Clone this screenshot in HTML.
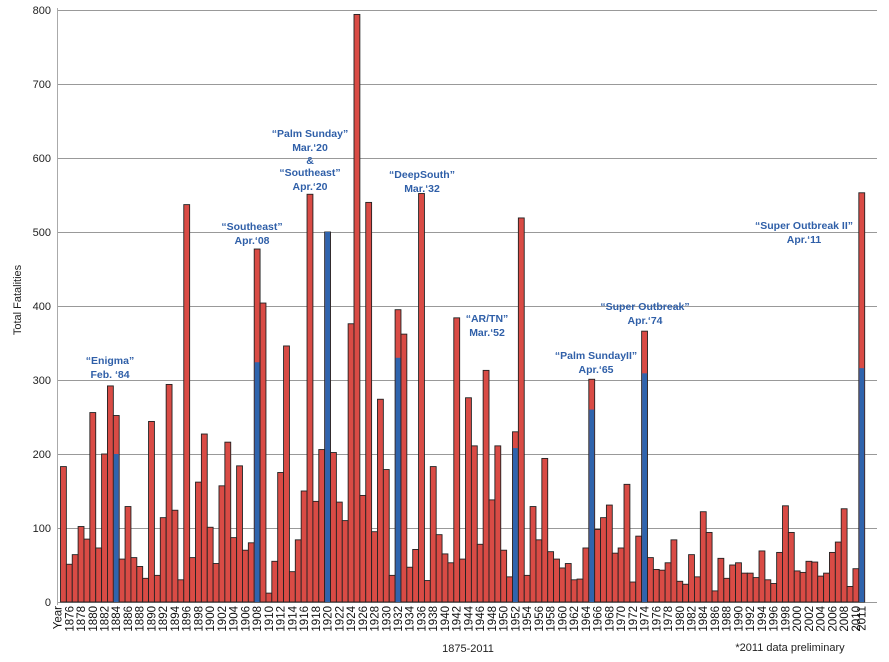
<!DOCTYPE html>
<html><head><meta charset="utf-8"><style>
body{margin:0;background:#fff;}
svg{display:block;font-family:"Liberation Sans",Arial,sans-serif;}
.ann{fill:#2f5fa8;font-weight:bold;font-size:10.5px;text-anchor:middle;}
.yl{font-size:11px;text-anchor:end;fill:#222;}
.xl text{font-size:11.5px;text-anchor:end;fill:#111;}
</style></head><body>
<svg id="c" width="889" height="662" viewBox="0 0 889 662" xmlns="http://www.w3.org/2000/svg">
<g id="grid" stroke="#999" stroke-width="1">
<line x1="57" x2="877" y1="10.5" y2="10.5"/><line x1="57" x2="877" y1="84.5" y2="84.5"/>
<line x1="57" x2="877" y1="158.5" y2="158.5"/><line x1="57" x2="877" y1="232.5" y2="232.5"/>
<line x1="57" x2="877" y1="306.5" y2="306.5"/><line x1="57" x2="877" y1="380.5" y2="380.5"/>
<line x1="57" x2="877" y1="454.5" y2="454.5"/><line x1="57" x2="877" y1="528.5" y2="528.5"/>
<line x1="57" x2="877" y1="602.5" y2="602.5"/>
<line x1="57.5" x2="57.5" y1="8" y2="605" stroke="#aaa"/>
</g>
<g class="yl">
<text x="51" y="14">800</text><text x="51" y="88">700</text><text x="51" y="162">600</text>
<text x="51" y="236">500</text><text x="51" y="310">400</text><text x="51" y="384">300</text>
<text x="51" y="458">200</text><text x="51" y="532">100</text><text x="51" y="606">0</text>
</g>
<text transform="translate(21,300) rotate(-90)" font-size="11" text-anchor="middle" fill="#222">Total Fatalities</text>
<g id="bars"></g>
<g class="xl">
<text transform="translate(61.5,606) rotate(-90)">Year</text>
<text transform="translate(73.3,606) rotate(-90)">1876</text>
<text transform="translate(85.0,606) rotate(-90)">1878</text>
<text transform="translate(96.8,606) rotate(-90)">1880</text>
<text transform="translate(108.5,606) rotate(-90)">1882</text>
<text transform="translate(120.2,606) rotate(-90)">1884</text>
<text transform="translate(132.0,606) rotate(-90)">1886</text>
<text transform="translate(143.7,606) rotate(-90)">1888</text>
<text transform="translate(155.5,606) rotate(-90)">1890</text>
<text transform="translate(167.2,606) rotate(-90)">1892</text>
<text transform="translate(178.9,606) rotate(-90)">1894</text>
<text transform="translate(190.7,606) rotate(-90)">1896</text>
<text transform="translate(202.4,606) rotate(-90)">1898</text>
<text transform="translate(214.2,606) rotate(-90)">1900</text>
<text transform="translate(225.9,606) rotate(-90)">1902</text>
<text transform="translate(237.6,606) rotate(-90)">1904</text>
<text transform="translate(249.4,606) rotate(-90)">1906</text>
<text transform="translate(261.1,606) rotate(-90)">1908</text>
<text transform="translate(272.9,606) rotate(-90)">1910</text>
<text transform="translate(284.6,606) rotate(-90)">1912</text>
<text transform="translate(296.3,606) rotate(-90)">1914</text>
<text transform="translate(308.1,606) rotate(-90)">1916</text>
<text transform="translate(319.8,606) rotate(-90)">1918</text>
<text transform="translate(331.6,606) rotate(-90)">1920</text>
<text transform="translate(343.3,606) rotate(-90)">1922</text>
<text transform="translate(355.0,606) rotate(-90)">1924</text>
<text transform="translate(366.8,606) rotate(-90)">1926</text>
<text transform="translate(378.5,606) rotate(-90)">1928</text>
<text transform="translate(390.3,606) rotate(-90)">1930</text>
<text transform="translate(402.0,606) rotate(-90)">1932</text>
<text transform="translate(413.7,606) rotate(-90)">1934</text>
<text transform="translate(425.5,606) rotate(-90)">1936</text>
<text transform="translate(437.2,606) rotate(-90)">1938</text>
<text transform="translate(449.0,606) rotate(-90)">1940</text>
<text transform="translate(460.7,606) rotate(-90)">1942</text>
<text transform="translate(472.4,606) rotate(-90)">1944</text>
<text transform="translate(484.2,606) rotate(-90)">1946</text>
<text transform="translate(495.9,606) rotate(-90)">1948</text>
<text transform="translate(507.7,606) rotate(-90)">1950</text>
<text transform="translate(519.4,606) rotate(-90)">1952</text>
<text transform="translate(531.1,606) rotate(-90)">1954</text>
<text transform="translate(542.9,606) rotate(-90)">1956</text>
<text transform="translate(554.6,606) rotate(-90)">1958</text>
<text transform="translate(566.4,606) rotate(-90)">1960</text>
<text transform="translate(578.1,606) rotate(-90)">1962</text>
<text transform="translate(589.8,606) rotate(-90)">1964</text>
<text transform="translate(601.6,606) rotate(-90)">1966</text>
<text transform="translate(613.3,606) rotate(-90)">1968</text>
<text transform="translate(625.1,606) rotate(-90)">1970</text>
<text transform="translate(636.8,606) rotate(-90)">1972</text>
<text transform="translate(648.5,606) rotate(-90)">1974</text>
<text transform="translate(660.3,606) rotate(-90)">1976</text>
<text transform="translate(672.0,606) rotate(-90)">1978</text>
<text transform="translate(683.8,606) rotate(-90)">1980</text>
<text transform="translate(695.5,606) rotate(-90)">1982</text>
<text transform="translate(707.2,606) rotate(-90)">1984</text>
<text transform="translate(719.0,606) rotate(-90)">1986</text>
<text transform="translate(730.7,606) rotate(-90)">1988</text>
<text transform="translate(742.5,606) rotate(-90)">1990</text>
<text transform="translate(754.2,606) rotate(-90)">1992</text>
<text transform="translate(765.9,606) rotate(-90)">1994</text>
<text transform="translate(777.7,606) rotate(-90)">1996</text>
<text transform="translate(789.4,606) rotate(-90)">1998</text>
<text transform="translate(801.2,606) rotate(-90)">2000</text>
<text transform="translate(812.9,606) rotate(-90)">2002</text>
<text transform="translate(824.6,606) rotate(-90)">2004</text>
<text transform="translate(836.4,606) rotate(-90)">2006</text>
<text transform="translate(848.1,606) rotate(-90)">2008</text>
<text transform="translate(859.9,606) rotate(-90)">2010</text>
<text transform="translate(865.7,606) rotate(-90)">2011</text>
</g>
<text x="468" y="652" font-size="11" text-anchor="middle" fill="#222">1875-2011</text>
<text x="790" y="651" font-size="11" text-anchor="middle" fill="#222">*2011 data preliminary</text>
<g class="ann">
<text x="110" y="364">“Enigma”</text><text x="110" y="378">Feb. ‘84</text>
<text x="252" y="230">“Southeast”</text><text x="252" y="244">Apr.‘08</text>
<text x="310" y="137">“Palm Sunday”</text><text x="310" y="151">Mar.‘20</text><text x="310" y="164">&amp;</text><text x="310" y="176">“Southeast”</text><text x="310" y="190">Apr.‘20</text>
<text x="422" y="178">“DeepSouth”</text><text x="422" y="192">Mar.‘32</text>
<text x="487" y="322">“AR/TN”</text><text x="487" y="336">Mar.‘52</text>
<text x="596" y="359">“Palm SundayII”</text><text x="596" y="373">Apr.‘65</text>
<text x="645" y="310">“Super Outbreak”</text><text x="645" y="324">Apr.‘74</text>
<text x="804" y="229">“Super Outbreak II”</text><text x="804" y="243">Apr.‘11</text>
</g>
</svg>
<script>
var v=[183,51,64,102,85,256,73,200,292,252,58,129,60,48,32,244,36,114,294,124,30,537,60,162,227,101,52,157,216,87,184,70,80,477,404,12,55,175,346,41,84,150,551,136,206,500,202,135,110,376,794,144,540,95,274,179,36,395,362,47,71,552,29,183,91,65,53,384,58,276,211,78,313,138,211,70,34,230,519,36,129,84,194,68,58,46,52,30,31,73,301,98,114,131,66,73,159,27,89,366,60,44,43,53,84,28,24,64,34,122,94,15,59,32,50,53,39,39,33,69,30,25,67,130,94,42,40,55,54,35,39,67,81,126,21,45,553];
var blue={1884:200,1908:324,1920:500,1932:330,1952:208,1965:260,1974:309,2011:316};
var g=document.getElementById('bars'),s="";
for(var i=0;i<v.length;i++){var x=60.5+5.87*i,yr=1875+i,h=v[i]*0.74,y=602-h;
s+='<rect x="'+x.toFixed(2)+'" y="'+y.toFixed(2)+'" width="5.87" height="'+h.toFixed(2)+'" fill="#d94b45" stroke="#222" stroke-width="0.9"/>';
if(blue[yr]){var bh=blue[yr]*0.74;s+='<rect x="'+(x+0.5).toFixed(2)+'" y="'+(602-bh).toFixed(2)+'" width="4.87" height="'+bh.toFixed(2)+'" fill="#2f64ad"/>';}}
g.innerHTML=s;
</script>
</body></html>
